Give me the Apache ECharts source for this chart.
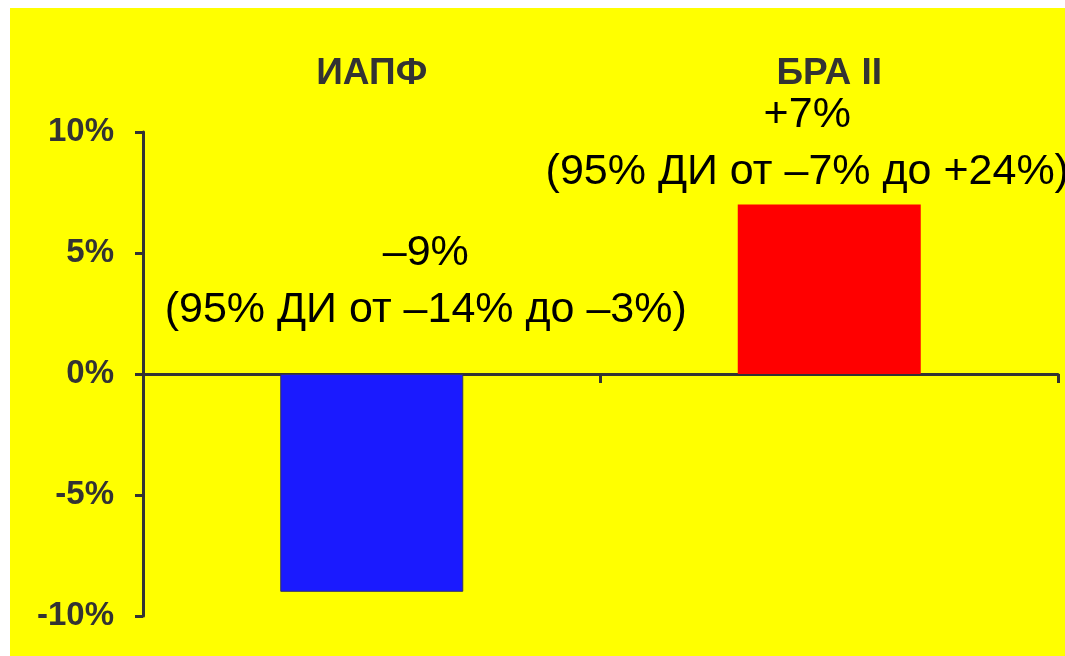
<!DOCTYPE html>
<html>
<head>
<meta charset="utf-8">
<style>
  html, body { margin: 0; padding: 0; background: #ffffff; }
  #chart { position: absolute; left: 10px; top: 8px; width: 1055px; height: 648px; background: #ffff00; }
</style>
<script src="https://cdn.jsdelivr.net/npm/echarts@6/dist/echarts.min.js"></script>
</head>
<body>
<div id="chart"></div>
<script>
// Drug classes and their relative change (%)
const categories = ['ИАПФ', 'БРА II'];
const effects = [-9, 7];
const effectText = ['–9%', '+7%'];
const ciText = ['(95% ДИ от –14% до –3%)', '(95% ДИ от –7% до +24%)'];
const barColors = ['#1a1aff', '#ff0000'];
const yTicks = { min: -10, max: 10, step: 5 };

// label placement for each bar
const labelShift = [[54, -35], [-22, -4]];

const axisColor = '#333333';
const fontFamily = 'Liberation Sans, Arial, sans-serif';

const chart = echarts.init(document.getElementById('chart'));

chart.setOption({
  backgroundColor: '#ffff00',
  animation: false,
  grid: { left: 133, right: 7, top: 124, bottom: 40, containLabel: false },
  xAxis: [
    {
      type: 'category',
      data: categories,
      position: 'bottom',
      axisLine: { onZero: true, lineStyle: { color: axisColor, width: 3 } },
      axisTick: { show: true, length: 9, lineStyle: { color: axisColor, width: 3 } },
      axisLabel: { show: false },
      splitLine: { show: false }
    },
    {
      type: 'category',
      data: categories,
      position: 'top',
      axisLine: { show: false },
      axisTick: { show: false },
      axisLabel: {
        show: true,
        margin: 40,
        color: axisColor,
        fontFamily: fontFamily,
        fontWeight: 'bold',
        fontSize: 37
      },
      splitLine: { show: false }
    }
  ],
  yAxis: {
    type: 'value',
    min: yTicks.min,
    max: yTicks.max,
    interval: yTicks.step,
    axisLine: { show: true, lineStyle: { color: axisColor, width: 3 } },
    axisTick: { show: true, length: 8, lineStyle: { color: axisColor, width: 3 } },
    axisLabel: {
      formatter: '{value}%',
      margin: 29,
      color: axisColor,
      fontFamily: fontFamily,
      fontWeight: 'bold',
      fontSize: 33
    },
    splitLine: { show: false }
  },
  series: [{
    type: 'bar',
    xAxisIndex: 0,
    barWidth: '40%',
    data: effects.map((v, i) => ({
      value: v,
      itemStyle: { color: barColors[i], borderColor: '#333366', borderWidth: i === 0 ? 1 : 0 },
      label: {
        show: true,
        position: 'top',
        distance: 0,
        offset: labelShift[i],
        align: 'center',
        color: '#000000',
        fontFamily: fontFamily,
        fontSize: 43,
        lineHeight: 57,
        formatter: () => effectText[i] + '\n' + ciText[i]
      }
    }))
  }]
});
</script>
</body>
</html>
